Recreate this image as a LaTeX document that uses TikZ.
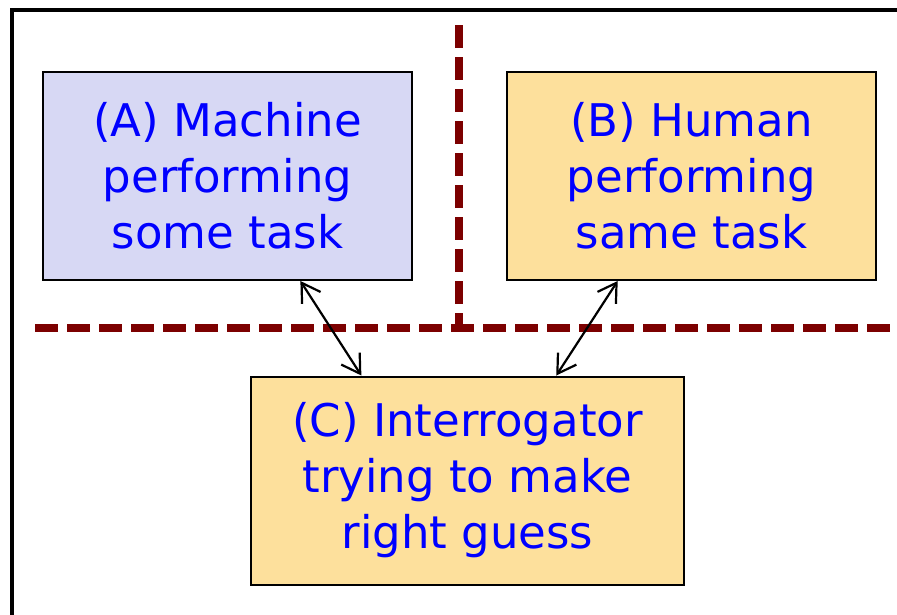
\documentclass[tikz,border=0pt]{standalone}
\usepackage{fontspec}
\setmainfont{DejaVu Sans}
\usetikzlibrary{arrows.meta,calc}
\definecolor{boxlav}{RGB}{215,216,244}
\definecolor{boxsand}{RGB}{253,224,156}
\definecolor{divider}{RGB}{124,0,0}
\definecolor{labelblue}{RGB}{0,0,255}
\tikzset{
  panel/.style={draw=black, line width=2pt, minimum width=369pt, minimum height=208pt,
    align=center, text=labelblue, inner sep=0pt,
    font=\fontsize{45}{56}\selectfont},
  splitline/.style={draw=divider, line width=8pt, dash pattern=on 23pt off 9pt},
  link/.style={draw=black, line width=2.2pt,
    {Straight Barb[length=18pt,width=22pt,line width=2.2pt]}-{Straight Barb[length=18pt,width=22pt,line width=2.2pt]}},
  frameline/.style={draw=black, line width=4pt}
}
\begin{document}
\begin{tikzpicture}[x=1pt,y=-1pt]
  \useasboundingbox (0,0) rectangle (897,614);
  \fill[white] (0,0) rectangle (897,614);
  % outer frame (open to the right and bottom)
  \draw[frameline] (12,620) -- (12,9.5) -- (900,9.5);
  % dashed dividers
  \draw[splitline] (459,25) -- (459,328);
  \draw[splitline] (35,328) -- (897,328);
  % panels
  \node[panel, fill=boxlav]  (A) at (227.5,176) {(A) Machine\\performing\\some task};
  \node[panel, fill=boxsand] (B) at (691.5,176) {(B) Human\\performing\\same task};
  \node[panel, fill=boxsand, minimum width=433pt] (C) at (467.5,480.5) {(C) Interrogator\\trying to make\\right guess};
  % links between the players and the interrogator
  \draw[link] ($(A.south west)!0.6965!(A.south east)$) -- ($(C.north west)!0.256!(C.north east)$);
  \draw[link] ($(B.south west)!0.301!(B.south east)$) -- ($(C.north west)!0.704!(C.north east)$);
\end{tikzpicture}
\end{document}
